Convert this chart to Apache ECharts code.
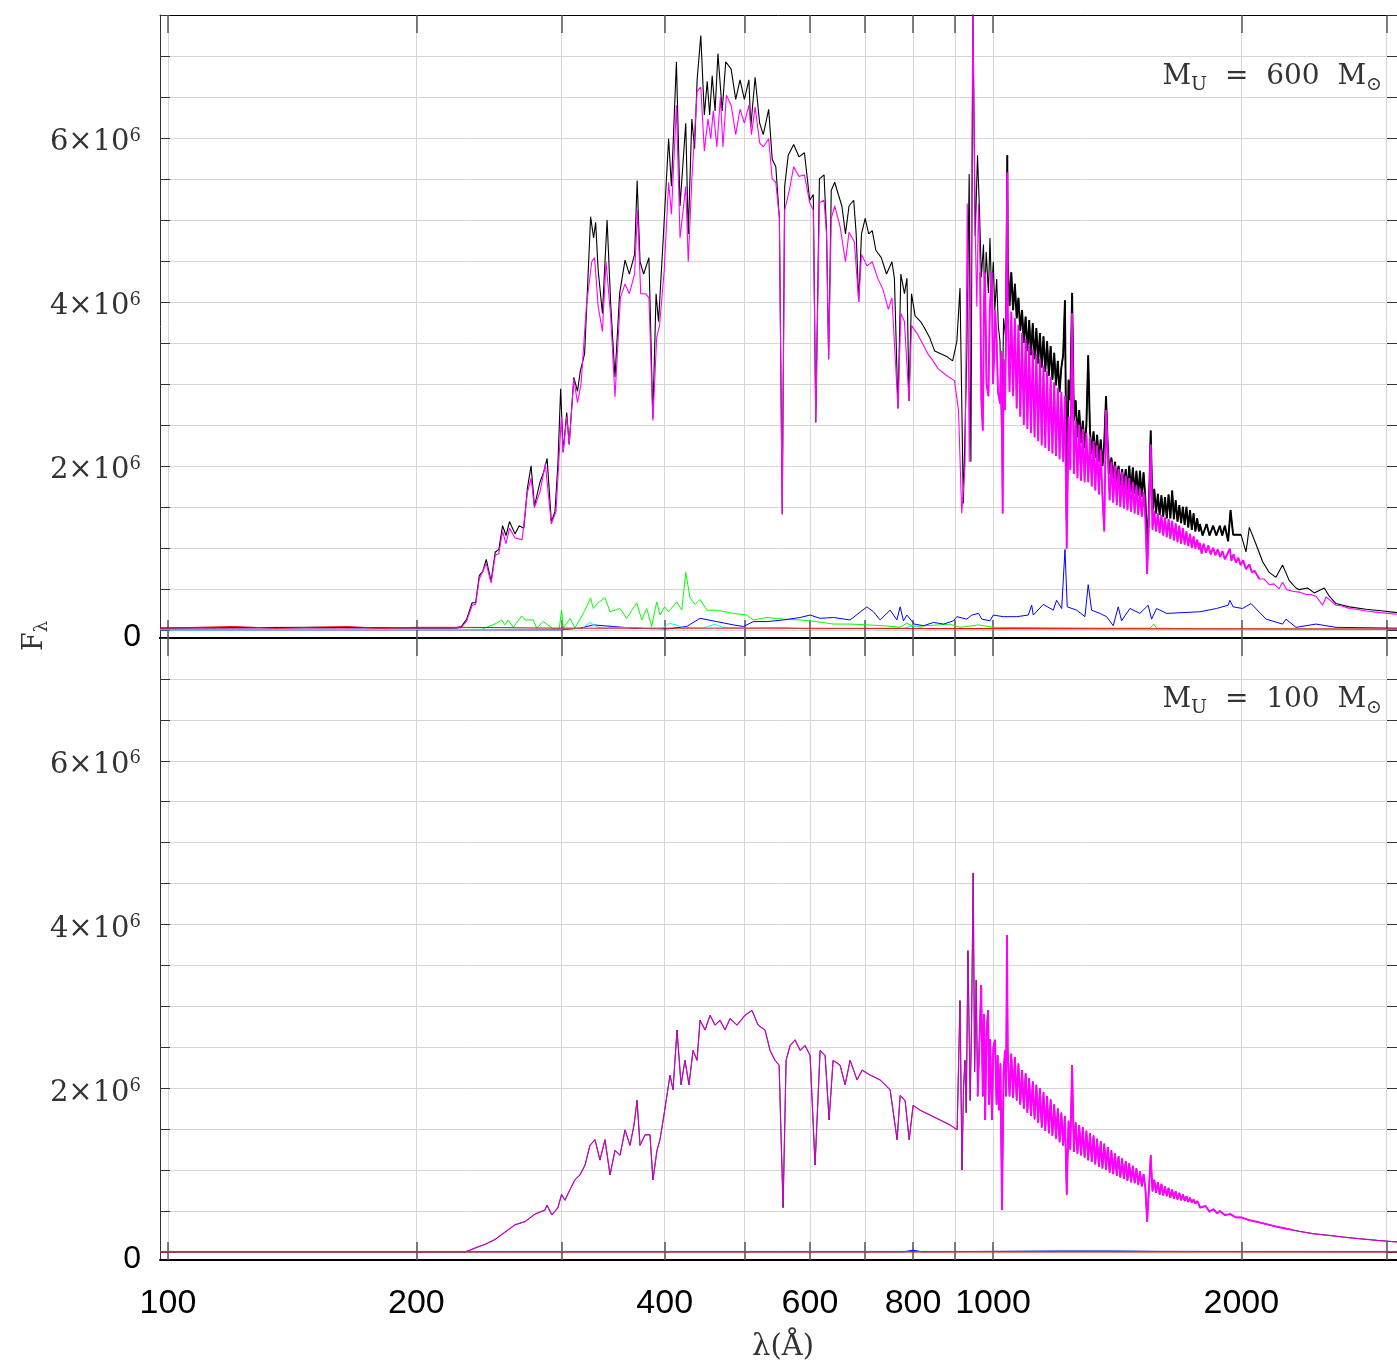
<!DOCTYPE html>
<html><head><meta charset="utf-8">
<script src="https://cdn.jsdelivr.net/npm/echarts@6/dist/echarts.min.js"></script>
<style>html,body{margin:0;padding:0;background:#fff}#c{width:1397px;height:1367px}</style>
</head><body><div id="c"></div>
<script>
// ---------- axis values ----------
const xTickValues = [100,200,300,400,500,600,700,800,900,1000,2000,3000];
const xLabelValues = [100,200,400,600,800,1000,2000];
const yTickValues = [0,0.5,1,1.5,2,2.5,3,3.5,4,4.5,5,5.5,6,6.5,7,7.5];
const yLabelValues = [0,2,4,6];           // flux in units of 10^6
const panelMasses = ['600','100'];        // M_U in solar masses

// ---------- top panel (M_U = 600), [wavelength Å, F_lambda / 1e6], below the dense line band ----------
const topTotalBlue = [[97.8,0.02],[150,0.03],[200,0.02],[222,0.02],
[226.8,0.04],[230.2,0.13],[233.7,0.33],[236.0,0.33],[238.4,0.66],[240.7,0.71],[243.1,0.86],[246.4,0.59],[249.3,0.95],[251.8,0.98],[254.4,1.27],[256.9,1.15],[259.4,1.32],[263.4,1.17],[266.5,1.27],[270.0,1.24],[272.7,1.73],[275.5,2.00],[278.1,1.51],[282.4,1.80],[285.3,1.92],[288.1,2.09],[291.5,1.32],[294.5,1.44],[296.9,2.02],[299.2,2.94],[301.3,2.17],[304.3,2.65],[306.4,2.26],[310.4,3.08],[313.6,2.91],[316.1,3.16],[319.9,3.37],[322.1,4.05],[325.3,5.04],[328.0,4.78],[329.9,4.97],[332.2,4.39],[336.2,3.86],[340.6,5.00],[344.1,3.96],[348.2,3.08],[352.7,4.10],[358.1,4.51],[362.4,4.34],[367.8,4.58],[370.4,5.48],[373.4,4.49],[377.2,4.34],[382.8,4.54],[387.0,2.58],[390.5,4.10],[393.2,3.76],[398.4,4.78],[404.4,5.99],[407.6,5.41],[413.3,6.93],[417.5,5.17],[424.2,6.18],[427.2,4.83],[431.5,6.23],[434.8,5.87],[437.9,6.71],[442.4,7.25],[446.8,6.28],[450.4,6.69],[453.5,6.28],[456.7,6.76],[460.4,6.33],[464.1,7.03],[469.6,6.33],[474.3,6.93],[481.5,6.84],[487.7,6.47],[493.6,6.71],[499.6,6.47],[506.0,6.71],[508.6,6.13],[514.8,6.74],[521.4,6.18],[526.7,6.04],[534.7,6.35],[540.0,5.74],[545.4,5.65],[550.9,5.02],[555.3,1.41],[559.1,5.41],[564.7,5.79],[573.3,5.92],[581.9,5.77],[590.8,5.82],[599.6,5.24],[605.6,5.31],[609.8,2.53],[616.0,5.50],[624.0,5.55],[628.4,4.87],[632.1,3.30],[636.7,5.36],[642.9,5.46],[649.4,5.31],[655.9,5.17],[662.5,4.83],[669.1,5.17],[677.9,5.24],[682.6,4.83],[687.4,4.00],[692.8,4.83],[700,5.02],[706.9,4.83],[713.9,4.87],[721.1,4.63],[732.1,4.54],[742.9,4.34],[754.2,4.49],[759.4,4.29],[767.1,2.70],[773.2,4.34],[781.0,4.10],[786.5,4.29],[791.1,2.79],[796.6,4.10],[804.6,3.83],[816.9,3.76],[825.0,3.69],[837.5,3.57],[849.9,3.40],[862.9,3.37],[880.3,3.33],[893.5,3.28],[904.1,3.52],[912,4.17],[920.5,1.54],[929.3,3.31],[935.7,5.56],[940.2,2.05],[945.4,7.6],[951.5,4.8],[957.7,5.79],[962.9,5.12],[968,4.3],[973.8,4.70],[977,4.0],[981.2,4.61],[987.3,4.11],[991.6,4.78],[996,4.1],[1000.8,4.49],[1005,3.9],[1010.3,4.28],[1015,3.7],[1019.7,3.52],[1024.6,2.34],[1030,3.8],[1036.9,3.52],[1040.7,5.79]];
const topTotalRed = [[1781.2,1.29],[1795,1.15],[1815,1.29],[1830,1.15],[1848.5,1.27],[1865,1.15],[1883.3,1.27],[1896,1.15],[1909.9,1.27],[1927.6,1.08],[1940.5,1.46],[1954.6,1.16],[1998,1.16],[2026,0.95],[2045,1.25],[2084,1.04],[2122.6,0.83],[2162,0.70],[2203,0.64],[2243.7,0.79],[2286,0.60],[2329.4,0.51],[2351,0.49],[2406,0.51],[2451,0.45],[2521,0.51],[2556,0.41],[2604.6,0.32],[2702,0.28],[2832,0.25],[2972,0.23],[3088,0.21]];

const topStellarBlue = [[97.8,0.01],[222,0.01],[226.8,0.03],[230.2,0.11],[233.7,0.30],[236.0,0.31],[238.4,0.62],[243.1,0.81],[246.4,0.57],[249.3,0.91],[251.8,0.93],[254.4,1.20],[256.9,1.05],[259.4,1.24],[263.4,1.12],[268.7,1.10],[272.7,1.68],[275.5,1.85],[278.1,1.49],[282.4,1.68],[286.7,2.02],[288.1,2.02],[291.5,1.29],[295.3,1.44],[299.8,2.60],[301.3,2.16],[304.3,2.60],[306.4,2.26],[310.4,3.06],[313.6,2.77],[316.8,3.01],[321.5,3.95],[326.3,4.49],[328.9,4.54],[332.2,3.95],[336.2,3.64],[339.6,4.49],[344.1,3.81],[348.2,2.84],[353.5,4.05],[358.1,4.22],[362.4,4.10],[367.8,4.34],[370.8,5.12],[374.1,4.10],[379.1,4.10],[382.8,4.05],[387.0,2.55],[391.2,3.57],[394.3,3.71],[399.5,4.39],[404.4,5.46],[407.6,5.07],[413.3,6.40],[417.5,4.78],[424.2,5.41],[427.2,4.49],[431.5,5.50],[434.5,5.99],[437.9,6.57],[442.4,6.62],[446.8,5.84],[451.3,6.23],[454.9,5.99],[458.1,6.33],[462.7,5.89],[467.3,6.50],[470.6,5.89],[475.2,6.52],[481.5,6.40],[487.7,6.04],[493.6,6.35],[499.6,6.18],[506.0,6.40],[509.6,6.04],[514.8,6.38],[521.4,5.94],[526.7,5.89],[534.7,5.99],[540.0,5.50],[545.4,5.46],[550.9,5.02],[555.3,1.41],[559.1,5.12],[566.5,5.36],[573.3,5.65],[581.9,5.53],[590.8,5.55],[599.6,5.21],[605.6,5.12],[609.8,2.53],[616.0,5.21],[624.0,5.24],[628.4,4.83],[632.1,3.30],[636.7,5.02],[642.9,5.17],[652.6,4.92],[662.5,4.49],[669.1,4.85],[679.2,4.73],[687.4,4.00],[692.8,4.58],[703.4,4.44],[713.9,4.49],[724.7,4.29],[735.7,4.15],[746.8,3.91],[754.2,4.05],[767.1,2.70],[773.2,3.86],[781.0,3.76],[791.1,2.79],[796.6,3.71],[808.6,3.62],[820.8,3.50],[833.3,3.37],[845.9,3.28],[858.7,3.18],[871.6,3.13],[884.6,3.08],[897.9,3.04],[908.2,2.68],[916.4,1.42],[924.9,2.01],[930.8,5.20],[935.9,2.05],[941.8,4.99],[945.4,7.6],[951.5,4.87],[955.9,3.94],[960.3,5.20],[964.8,4.36],[968,2.8],[972.0,2.43],[975,4.0],[978,4.36],[982,3.0],[987.3,2.85],[991,3.9],[996.4,4.36],[1000,3.0],[1003,3.3],[1006,3.9],[1010.3,3.52],[1014,2.9],[1019.7,2.76],[1023,3.4],[1027.4,1.42],[1030,3.3],[1034,2.68],[1037,3.6],[1040.7,5.58]];
const topStellarRed = [[1781.2,1.06],[1790,0.93],[1800,1.05],[1812,0.94],[1824,1.03],[1836,0.92],[1848,1.0],[1860,0.91],[1872,0.98],[1885,0.89],[1897,0.96],[1910,0.86],[1919.1,0.85],[1936.6,0.99],[1945,0.84],[1957,0.92],[1970,0.82],[1983,0.88],[1996,0.79],[2010,0.85],[2026,0.74],[2045,0.80],[2060,0.70],[2075,0.72],[2103,0.62],[2130,0.62],[2162,0.55],[2190,0.56],[2223,0.50],[2243.7,0.58],[2270,0.49],[2307,0.47],[2350,0.46],[2396,0.43],[2430,0.43],[2463,0.41],[2509,0.30],[2533,0.40],[2570,0.35],[2604.6,0.30],[2650,0.29],[2702,0.26],[2760,0.25],[2832,0.23],[2950,0.21],[3088,0.19]];

// ---------- dense line band 1042–1777 Å (shared wavelength grid) ----------
const bandWl = [1042.0,1047.2,1052.4,1057.7,1063.0,1068.3,1073.6,1079.0,1084.4,1089.8,1095.3,1100.8,1106.3,1111.8,1117.4,1123.0,1128.6,1134.2,1139.9,1145.6,1151.3,1157.1,1162.9,1168.7,1174.5,1180.4,1186.3,1192.2,1198.2,1204.2,1210.2,1216.3,1222.4,1228.5,1234.6,1240.8,1247.0,1253.2,1259.5,1265.8,1272.1,1278.5,1284.9,1291.3,1297.8,1304.3,1310.8,1317.3,1323.9,1330.5,1337.2,1343.9,1350.6,1357.3,1364.1,1370.9,1377.8,1384.7,1391.6,1398.5,1405.5,1412.5,1419.6,1426.7,1433.8,1441.0,1448.2,1455.4,1462.7,1470.0,1477.4,1484.8,1492.2,1499.7,1507.2,1514.7,1522.3,1529.9,1537.5,1545.2,1552.9,1560.7,1568.5,1576.3,1584.2,1592.1,1600.1,1608.1,1616.1,1624.2,1632.3,1640.5,1648.7,1656.9,1665.2,1673.5,1681.9,1690.3,1698.8,1707.3,1715.8,1724.4,1733.0,1741.7,1750.4,1759.1,1767.9,1776.7];
const topTotalBand = [4.50,3.95,4.36,3.90,4.22,3.80,4.05,3.65,3.90,3.50,3.82,3.40,3.78,3.35,3.74,3.30,3.68,3.25,3.62,3.20,3.58,3.15,3.52,3.10,3.46,3.05,3.38,2.98,3.28,2.90,3.20,3.35,4.02,1.33,3.05,2.80,4.11,2.55,2.80,2.35,2.68,2.28,2.55,2.22,2.50,3.35,2.43,2.15,2.42,2.10,2.38,2.05,2.32,2.00,2.28,2.85,2.20,1.90,2.10,1.85,2.05,1.80,2.00,1.76,1.96,1.72,1.96,1.70,2.00,1.68,1.98,1.66,1.94,1.64,1.94,1.62,1.92,1.60,0.99,1.50,2.43,1.45,1.72,1.42,1.66,1.40,1.64,1.38,1.62,1.36,1.65,1.36,1.70,1.35,1.58,1.32,1.52,1.30,1.50,1.28,1.50,1.25,1.46,1.22,1.42,1.20,1.36,1.20];
const topStellarBand = [3.90,2.90,3.88,2.85,3.80,2.70,3.72,2.60,3.62,2.50,3.55,2.45,3.48,2.40,3.42,2.35,3.36,2.30,3.30,2.25,3.22,2.22,3.15,2.18,3.08,2.15,3.02,2.12,2.95,2.08,2.90,2.05,2.85,0.99,2.60,1.95,3.86,1.90,2.55,1.85,2.50,1.82,2.45,1.80,2.40,1.80,2.35,1.75,2.30,1.70,2.25,1.65,2.20,1.62,1.20,2.68,2.10,1.58,2.05,1.55,2.00,1.52,1.96,1.50,1.92,1.48,1.88,1.46,1.85,1.44,1.80,1.42,1.76,1.40,1.72,1.38,1.68,1.36,0.68,1.30,2.26,1.22,1.45,1.20,1.42,1.18,1.40,1.15,1.37,1.13,1.35,1.11,1.33,1.09,1.30,1.07,1.27,1.05,1.24,1.04,1.20,1.02,1.17,1.00,1.14,0.99,1.10,0.98];
const bottomStellarBand = [2.45,1.90,2.42,1.88,2.38,1.85,2.30,1.80,2.22,1.75,2.18,1.70,2.12,1.66,2.08,1.62,2.04,1.58,2.00,1.52,1.95,1.48,1.90,1.45,1.86,1.42,1.80,1.38,1.75,1.34,1.70,1.30,1.66,0.70,1.60,1.25,2.28,1.22,1.58,1.20,1.55,1.18,1.52,1.15,1.48,1.12,1.45,1.10,1.42,1.07,1.38,1.04,1.35,1.02,1.32,1.00,1.28,0.97,1.24,0.95,1.20,0.93,1.17,0.91,1.14,0.89,1.11,0.87,1.08,0.85,1.05,0.84,1.02,0.82,0.98,0.80,0.95,0.78,0.37,0.76,1.18,0.74,0.88,0.72,0.85,0.70,0.83,0.69,0.80,0.68,0.78,0.66,0.76,0.65,0.74,0.64,0.72,0.63,0.70,0.62,0.68,0.61,0.66,0.60,0.64,0.59,0.62,0.58];

const topGreen = [[97.8,0.005],[240,0.005],[250.2,0.08],[253.8,0.12],[256.1,0.06],[258.5,0.12],[262.1,0.03],[268.4,0.17],[270.9,0.12],[277.2,0.12],[279.8,0.02],[285.0,0.10],[293.1,0.01],[298,0.01],[300,0.24],[301.4,0.02],[307.1,0.14],[311.4,0.02],[320.3,0.24],[325.3,0.39],[327.7,0.26],[332.3,0.33],[338.6,0.39],[343.4,0.22],[353.1,0.26],[359.8,0.14],[370.0,0.33],[375.2,0.12],[380.5,0.26],[385.7,0.04],[391.2,0.34],[394.8,0.18],[400,0.28],[404.1,0.22],[413.7,0.34],[419.5,0.24],[424.2,0.70],[429.3,0.39],[435.4,0.31],[441.5,0.37],[449.9,0.24],[462.6,0.24],[484.5,0.20],[503,0.18],[512.3,0.12],[531.9,0.15],[557.1,0.13],[583.7,0.12],[611.6,0.10],[640.6,0.07],[671.1,0.07],[703.2,0.06],[736.6,0.05],[771.7,0.03],[786.3,0.08],[802.6,0.04],[887.3,0.07],[912,0.03],[960.3,0.06],[1001,0.03],[1347.6,0.02],[1549.3,0.02],[1566.5,0.07],[1578.7,0.02],[1781.2,0.01],[3088,0.005]];

const topBlue = [[97.8,0.0],[300,0.0],[315.8,0.02],[327.7,0.06],[346.6,0.04],[366.5,0.02],[402.3,0.01],[425.4,0.04],[441.5,0.14],[462.6,0.10],[484.5,0.06],[498.2,0.04],[512.3,0.10],[531.9,0.10],[557.1,0.12],[583.7,0.15],[600.2,0.18],[617.2,0.14],[640.6,0.15],[671.1,0.12],[703.2,0.28],[716.3,0.22],[729.8,0.12],[750.4,0.24],[764.7,0.12],[771.7,0.28],[778.9,0.11],[786.3,0.18],[802.6,0.07],[824.2,0.05],[846.9,0.09],[871,0.07],[895.6,0.11],[904.1,0.16],[929.3,0.13],[942.8,0.18],[960.3,0.20],[969.4,0.13],[991.6,0.11],[1000.8,0.18],[1029.2,0.16],[1068.5,0.16],[1103.5,0.18],[1114,0.30],[1119,0.18],[1150.7,0.31],[1183.2,0.24],[1194.3,0.36],[1211.3,0.26],[1222.5,0.98],[1230.3,0.28],[1263,0.24],[1292.6,0.16],[1304.3,0.55],[1316.9,0.24],[1347.6,0.20],[1373.2,0.16],[1398.7,0.05],[1418.4,0.28],[1431.8,0.11],[1465.3,0.26],[1506.7,0.20],[1542.1,0.30],[1556.7,0.13],[1578.7,0.26],[1623.4,0.20],[1781.2,0.22],[1866.3,0.26],[1927.6,0.30],[1936.6,0.36],[1954.6,0.28],[2006,0.26],[2054.8,0.32],[2143,0.13],[2243.7,0.07],[2265,0.13],[2329.4,0.03],[2463,0.07],[2604.6,0.03],[3088,0.02]];

const topCyan = [[97.8,0.0],[240,0.005],[300,0.01],[318,0.02],[324.7,0.09],[332,0.03],[340,0.02],[365,0.03],[385,0.01],[398,0.02],[405,0.08],[413,0.06],[420,0.03],[445,0.02],[460,0.07],[470,0.03],[500,0.02],[551,0.03],[600,0.01],[780,0.02],[800,0.05],[830,0.01],[3088,0.005]];

const topRed = [[97.8,0.02],[120,0.04],[135,0.02],[150,0.03],[165,0.04],[180,0.02],[200,0.03],[230,0.03],[300,0.02],[500,0.02],[1000,0.015],[3088,0.01]];

// ---------- bottom panel (M_U = 100) ----------
const bottomStellarBlue = [[97.8,0.0],[229.1,0.0],[232.3,0.02],[237.5,0.06],[242.2,0.09],[249.1,0.15],[256.1,0.24],[263.4,0.33],[270.9,0.37],[278.5,0.46],[286.4,0.51],[288.0,0.57],[292.0,0.45],[296.9,0.54],[300,0.70],[302.8,0.63],[307.1,0.76],[311.4,0.88],[315.8,0.94],[320.3,1.06],[324.7,1.30],[329.3,1.37],[333.9,1.12],[338.6,1.37],[343.4,0.94],[348.2,1.24],[353.1,1.18],[358.1,1.49],[363.1,1.30],[367.2,1.55],[370.3,1.85],[373.4,1.30],[378.7,1.43],[383.9,1.43],[387.1,0.88],[391.5,1.24],[394.8,1.37],[400,1.73],[406,2.16],[409.4,1.98],[414.0,2.71],[418.7,2.04],[423.3,2.34],[428.1,2.04],[432.9,2.46],[437.8,2.34],[441.5,2.83],[447.7,2.71],[454.0,2.89],[460.4,2.77],[466.8,2.83],[473.4,2.71],[480.0,2.85],[489.5,2.77],[500.5,2.89],[510.4,2.95],[519.0,2.77],[529.3,2.71],[536.8,2.46],[544.3,2.34],[550.5,2.28],[556.6,0.54],[561.3,2.34],[567.6,2.52],[575.6,2.59],[583.7,2.46],[591.9,2.52],[600.2,2.40],[608.6,1.06],[617.2,2.46],[625.9,2.40],[632.9,1.61],[640.0,2.34],[652.6,2.28],[661.8,2.04],[671.1,2.34],[684.3,2.10],[694.0,2.22],[709.7,2.16],[729.8,2.10],[750.4,1.98],[765.2,1.37],[771.7,1.91],[782.5,1.85],[791.4,1.37],[800.2,1.79],[816.0,1.73],[839.1,1.67],[862.9,1.61],[887.3,1.55],[904.8,1.49],[912.0,3.07],[917.1,1.00],[921,2.0],[924.8,2.34],[928,1.7],[932.5,3.68],[938.3,1.85],[942,2.8],[946.2,4.63],[950,2.2],[954.2,3.32],[958,1.9],[962.2,2.46],[967.5,3.26],[972,1.9],[975,2.9],[978.4,1.61],[982,2.7],[986.5,2.95],[989,1.8],[992,2.6],[997.2,1.61],[1001,2.5],[1005.6,2.59],[1010,1.8],[1013,2.4],[1016.9,1.73],[1021,2.3],[1025.4,0.51],[1030,2.2],[1034,2.46],[1037,1.9],[1039.8,3.87]];
const bottomStellarRed = [[1781.2,0.54],[1790,0.52],[1810,0.56],[1830,0.49],[1850,0.52],[1870,0.47],[1883.3,0.50],[1910,0.45],[1940,0.46],[1970,0.42],[2000,0.42],[2040,0.39],[2080,0.37],[2120,0.35],[2162,0.33],[2200,0.31],[2250,0.29],[2300,0.27],[2351,0.25],[2450,0.22],[2556,0.20],[2660,0.18],[2779,0.16],[2920,0.14],[3088,0.12]];
const bottomRed = [[97.8,0.0],[3088,0.0]];
const bottomGreen = [[97.8,0.005],[3088,0.005]];
const bottomBlue = [[97.8,0.0],[780,0.0],[800,0.02],[820,0.0],[1200,0.01],[1400,0.01],[1600,0.005],[3088,0.0]];

// ---------- assemble full spectra from the pieces ----------
const zipBand = vals => bandWl.map((w, i) => [w, vals[i]]);
const topTotal = topTotalBlue.concat(zipBand(topTotalBand), topTotalRed);
const topStellar = topStellarBlue.concat(zipBand(topStellarBand), topStellarRed);
const bottomStellar = bottomStellarBlue.concat(zipBand(bottomStellarBand), bottomStellarRed);
// the crowded-line region is drawn again with a heavier stroke (same data)
const crowded = (data, lo, hi) => data.filter(p => p[0] >= lo && p[0] <= hi);

// ---------- chart ----------
const X_MIN = 97.8, X_MAX = 3088;
const serif = 'DejaVu Serif';
const gridColor = '#d6d6d6';

function xAxis(gridIndex, position, lineWidth, showLabels) {
  return {
    type: 'log', logBase: 10, gridIndex, position, min: X_MIN, max: X_MAX,
    axisLine: { show: true, onZero: false, lineStyle: { color: '#000', width: lineWidth } },
    axisTick: { show: true, inside: true, length: 18, customValues: xTickValues, lineStyle: { color: '#555', width: 1.5 } },
    axisLabel: { show: showLabels, customValues: xLabelValues, formatter: v => String(Math.round(v)),
      fontFamily: 'Liberation Sans', fontSize: 34, color: '#000', margin: 27 },
    splitLine: { show: position === 'bottom', lineStyle: { color: gridColor, width: 1 } },
    minorTick: { show: false }, minorSplitLine: { show: false }
  };
}
function yAxis(gridIndex, position, showLabels) {
  return {
    type: 'value', gridIndex, position, min: -0.1, max: 7.5,
    axisLine: { show: true, onZero: false, lineStyle: { color: '#333', width: 1 } },
    axisTick: { show: true, inside: true, length: 10, customValues: yTickValues, lineStyle: { color: '#333', width: 1 } },
    axisLabel: {
      show: showLabels, customValues: yLabelValues, margin: 19, padding: [10, 0, 0, 0],
      formatter: v => v === 0 ? '{z|0}' : '{a|' + v + '×10}{b|6}',
      rich: {
        z: { fontFamily: 'Liberation Sans', fontSize: 32, color: '#000', lineHeight: 34, padding: [4, 0, 0, 0] },
        a: { fontFamily: serif, fontSize: 29, color: '#333', lineHeight: 32 },
        b: { fontFamily: serif, fontSize: 18, color: '#333', lineHeight: 22, verticalAlign: 'top' }
      }
    },
    splitLine: { show: position === 'left', lineStyle: { color: gridColor, width: 1 } }
  };
}
function line(data, color, axisIdx, width, z, opacity) {
  return {
    type: 'line', data, xAxisIndex: axisIdx, yAxisIndex: axisIdx, showSymbol: false, symbol: 'none',
    lineStyle: { color, width, opacity: opacity == null ? 1 : opacity }, z, silent: true, animation: false
  };
}
function massLabel(mass, y) {
  return {
    type: 'text', x: 1382, y, z: 100,
    style: {
      text: '{m|M}{s|U}{m|  =  ' + mass + '  M}{s|⊙}',
      align: 'right', verticalAlign: 'middle',
      rich: {
        m: { fontFamily: serif, fontSize: 28, lineHeight: 36, fill: '#333', verticalAlign: 'middle' },
        s: { fontFamily: serif, fontSize: 19, lineHeight: 12, fill: '#333', verticalAlign: 'bottom' }
      }
    }
  };
}

const chart = echarts.init(document.getElementById('c'), null, { renderer: 'canvas' });
chart.setOption({
  animation: false,
  backgroundColor: '#fff',
  grid: [
    { left: 160, top: 15, width: 1237, height: 623, containLabel: false },
    { left: 160, top: 638, width: 1237, height: 622, containLabel: false }
  ],
  xAxis: [xAxis(0, 'bottom', 2, false), xAxis(1, 'bottom', 2, true), xAxis(0, 'top', 1, false), xAxis(1, 'top', 2, false)],
  yAxis: [yAxis(0, 'left', true), yAxis(1, 'left', true), yAxis(0, 'right', false), yAxis(1, 'right', false)],
  series: [
    line(topTotal, '#000000', 0, 1.1, 2),
    line(crowded(topTotal, 1036, 2000), '#000000', 0, 1.9, 2),
    line(topStellar, '#ff00ff', 0, 1.1, 3),
    line(crowded(topStellar, 962, 2110), '#ff00ff', 0, 1.9, 3),
    line(topGreen, '#00ff00', 0, 1, 4),
    line(topBlue, '#0000ff', 0, 1, 5),
    line(topCyan, '#00ffff', 0, 1, 6),
    line(topRed, '#ff0000', 0, 1, 7),
    line(bottomStellar, '#000000', 1, 1, 2),
    line(bottomStellar, '#ff00ff', 1, 1.2, 3, 0.75),
    line(crowded(bottomStellar, 958, 2310), '#ff00ff', 1, 1.9, 3),
    line(bottomGreen, '#00a080', 1, 1, 4),
    line(bottomBlue, '#0000ff', 1, 1, 5),
    line(bottomRed, '#e03010', 1, 1.5, 7)
  ],
  graphic: [
    massLabel(panelMasses[0], 77),
    massLabel(panelMasses[1], 700),
    { type: 'text', x: 783, y: 1347, z: 100,
      style: { text: 'λ(Å)', fontFamily: serif, fontSize: 29, fill: '#333', align: 'center', verticalAlign: 'middle' } },
    { type: 'text', x: 35, y: 636, rotation: Math.PI / 2, z: 100,
      style: { text: '{f|F}{s|λ}', align: 'center', verticalAlign: 'middle',
        rich: { f: { fontFamily: serif, fontSize: 27, fill: '#333', lineHeight: 32, verticalAlign: 'middle' },
                s: { fontFamily: serif, fontSize: 18, fill: '#333', lineHeight: 10, verticalAlign: 'bottom' } } } }
  ]
});
</script></body></html>
